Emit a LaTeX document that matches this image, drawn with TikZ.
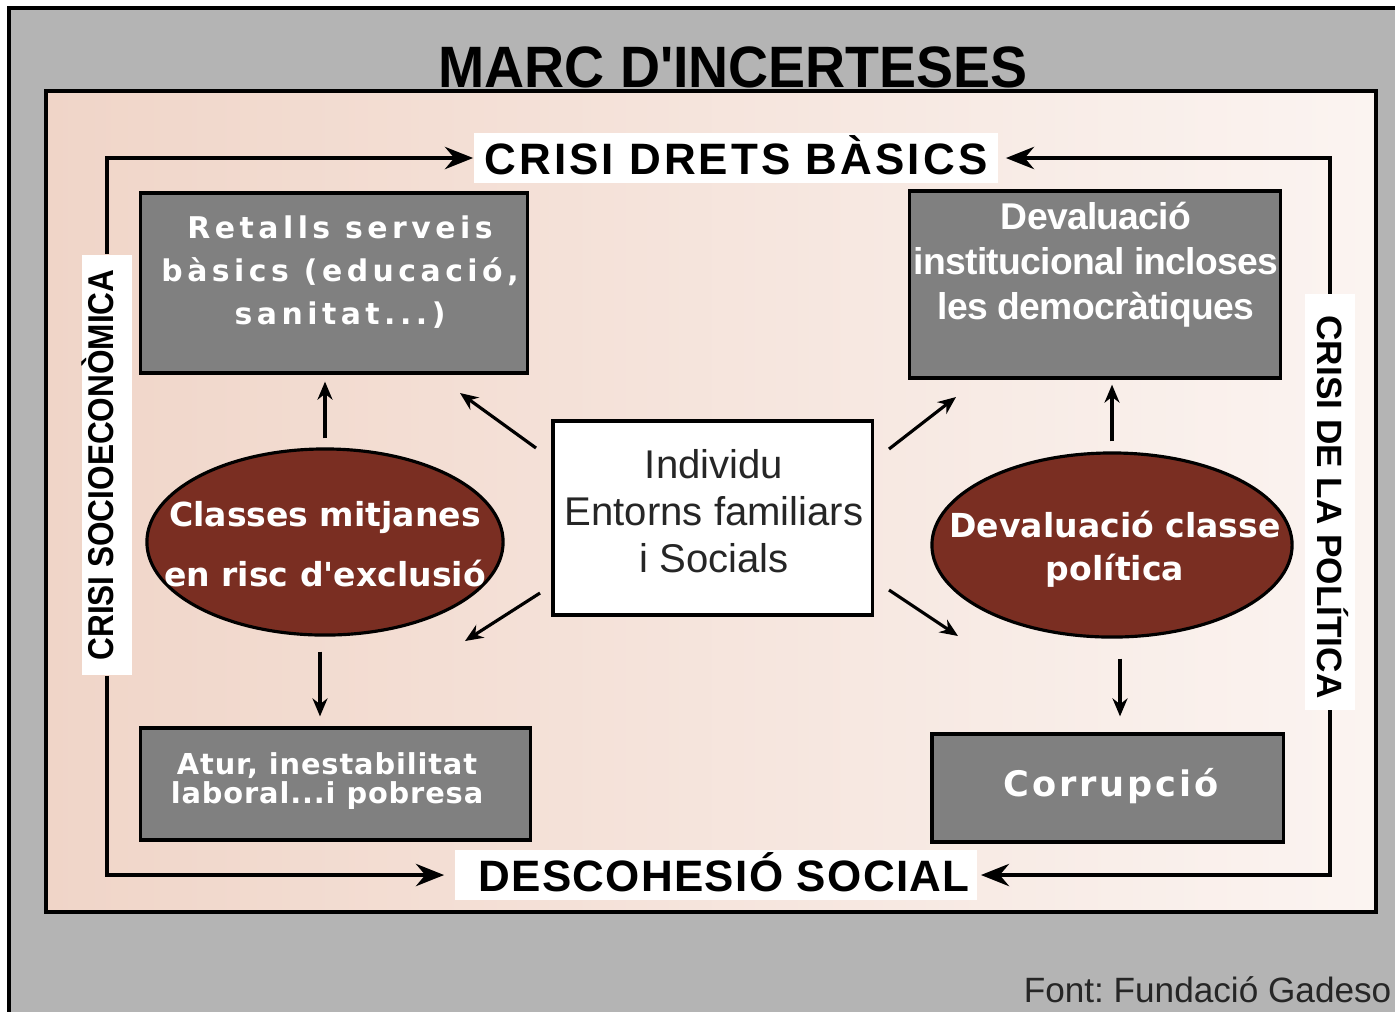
\documentclass[tikz,border=0pt]{standalone}
\usepackage{fontspec}
\setmainfont{Liberation Sans}[Ligatures=TeXOff]
\newfontfamily\titlefont[FakeStretch=0.95]{Liberation Sans}
\newfontfamily\headfont[LetterSpace=7]{Liberation Sans}
\newfontfamily\descfont[LetterSpace=3]{Liberation Sans}
\newfontfamily\narrowfont[FakeStretch=0.88]{Liberation Sans}
\newfontfamily\tightfont[LetterSpace=-2]{Liberation Sans}
\newfontfamily\trackedfont[LetterSpace=15]{DejaVu Sans}
\newfontfamily\midfont[LetterSpace=3]{DejaVu Sans}
\newfontfamily\corrfont[LetterSpace=8]{DejaVu Sans}
\newfontfamily\ovalfont[Ligatures=TeXOff]{DejaVu Sans}
\usetikzlibrary{arrows.meta,calc,shapes.geometric}

\definecolor{framegray}{HTML}{B4B4B4}
\definecolor{boxgray}{HTML}{808080}
\definecolor{ovalbrown}{HTML}{7A2E22}
\definecolor{panelleft}{HTML}{F0D5C8}
\definecolor{panelright}{HTML}{FBF4F1}

\tikzset{
  labelbox/.style={fill=white, inner sep=0pt, text height=0.32cm, text depth=0pt, font=\headfont\bfseries\fontsize{12.5}{14}\selectfont},
  sidebox/.style={fill=white, inner sep=0pt, font=\narrowfont\bfseries\fontsize{10.2}{12}\selectfont},
  graybox/.style={draw=black, fill=boxgray, line width=0.9pt, inner sep=0pt},
  oval/.style={ellipse, draw=black, fill=ovalbrown, line width=0.9pt, inner sep=0pt},
  whitetext/.style={text=white, align=center, inner sep=0pt},
  looparrow/.style={line width=1.4pt, -{Stealth[length=0.28cm,width=0.22cm]}},
  shortarrow/.style={line width=0.9pt, -{Stealth[length=0.18cm,width=0.15cm]}}
}

\begin{document}
\begin{tikzpicture}[x=0.01cm,y=-0.01cm]
\useasboundingbox (0,0) rectangle (1395,1011);
\clip (0,0) rectangle (1395,1011);
\fill[white] (0,0) rectangle (1395,1011);
\draw[fill=framegray, line width=0.9pt] (9,8) rectangle (1430,1040);
\shade[left color=panelleft, right color=panelright] (46,91) rectangle (1376,912);
\draw[line width=0.9pt] (46,91) rectangle (1376,912);

\node[font=\titlefont\bfseries\fontsize{16.6}{18}\selectfont, inner sep=0pt] (title) at (733,67) {MARC D'INCERTESES};

\node[labelbox, minimum width=5.24cm, minimum height=0.5cm] (drets) at (736,158) {CRISI DRETS BÀSICS};
\node[labelbox, font=\descfont\bfseries\fontsize{12.5}{14}\selectfont, minimum width=5.22cm, minimum height=0.5cm] (descohesio) at (716,875) {\hspace*{0.16cm}DESCOHESIÓ SOCIAL};
\node[sidebox, rotate=90, text height=0.26cm, text depth=0.14cm, minimum width=4.2cm, minimum height=0.49cm] (socio) at (107,465) {CRISI SOCIOECONÒMICA};
\node[sidebox, rotate=-90, text height=0.25cm, text depth=0pt, font=\bfseries\fontsize{10}{12}\selectfont, minimum width=4.15cm, minimum height=0.5cm] (politica) at (1330,502) {\hspace*{0.1cm}CRISI DE LA POLÍTICA};

\node[graybox, minimum width=3.86cm, minimum height=1.8cm] (retalls) at (334,283) {};
\node[whitetext, font=\trackedfont\bfseries\fontsize{8.5}{12.2}\selectfont] (retallsText) at (340,272) {Retalls serveis\\bàsics (educació,\\sanitat...)};
\node[graybox, minimum width=3.7cm, minimum height=1.87cm] (devalInst) at (1095,284.5) {};
\node[whitetext, font=\tightfont\bfseries\fontsize{10.6}{12.8}\selectfont] (devalInstText) at (1096,265) {Devaluació\\institucional incloses\\les democràtiques};
\node[graybox, minimum width=3.89cm, minimum height=1.12cm] (atur) at (335.5,784) {};
\node[whitetext, font=\midfont\bfseries\fontsize{8.2}{8.4}\selectfont] (aturText) at (327,781) {Atur, inestabilitat\\laboral...i pobresa};
\node[graybox, minimum width=3.51cm, minimum height=1.08cm] (corrupcio) at (1107.5,788) {};
\node[whitetext, font=\corrfont\bfseries\fontsize{10}{12}\selectfont] (corrupcioText) at (1111,786) {Corrupció};

\node[oval, minimum width=3.56cm, minimum height=1.86cm] (classes) at (325,542) {};
\node[whitetext, font=\ovalfont\bfseries\fontsize{9.4}{17}\selectfont] (classesText) at (325,544) {Classes mitjanes\\en risc d'exclusió};
\node[oval, minimum width=3.6cm, minimum height=1.84cm] (devalClasse) at (1112,545) {};
\node[whitetext, font=\ovalfont\bfseries\fontsize{9.4}{12.2}\selectfont] (devalClasseText) at (1115,549) {Devaluació classe\\política};

\node[draw, fill=white, line width=0.9pt, minimum width=3.19cm, minimum height=1.94cm, inner sep=0pt] (individu) at (712.5,518) {};
\node[align=center, inner sep=0pt, text=black!85, font=\fontsize{11.4}{13.4}\selectfont] (individuText) at (714,511) {Individu\\Entorns familiars\\i Socials};

\node[anchor=east, inner sep=0pt, text=black!85, font=\fontsize{10}{12}\selectfont\frenchspacing] (source) at (1392,990) {Font: Fundació Gadeso};

\draw[looparrow] (socio.east) |- (drets.west);
\draw[looparrow, shorten >=0.1cm] (socio.west) |- (descohesio.west);
\draw[looparrow, shorten >=0.07cm] (politica.west) |- (drets.east);
\draw[looparrow, shorten >=0.03cm] (politica.east) |- (descohesio.east);

\draw[shortarrow, shorten <=0.09cm, shorten >=0.07cm] (classes.north) -- (classes.north |- retalls.south);
\draw[shortarrow, shorten <=0.15cm, shorten >=0.1cm] ([xshift=-0.05cm]classes.south) -- ([xshift=-0.05cm]classes.south |- atur.north);
\draw[shortarrow, shorten <=0.1cm, shorten >=0.05cm] (devalClasse.north) -- (devalClasse.north |- devalInst.south);
\draw[shortarrow, shorten <=0.2cm, shorten >=0.16cm] ([xshift=0.08cm]devalClasse.south) -- ([xshift=0.08cm]devalClasse.south |- corrupcio.north);

\coordinate (nwStart) at (536,448);
\coordinate (nwEnd) at (460,393);
\coordinate (swStart) at (540,593);
\coordinate (swEnd) at (465,641);
\coordinate (neStart) at (889,449);
\coordinate (neEnd) at (956,397);
\coordinate (seStart) at (889,590);
\coordinate (seEnd) at (958,636);
\draw[shortarrow] (nwStart) -- (nwEnd);
\draw[shortarrow] (swStart) -- (swEnd);
\draw[shortarrow] (neStart) -- (neEnd);
\draw[shortarrow] (seStart) -- (seEnd);
\end{tikzpicture}
\end{document}
